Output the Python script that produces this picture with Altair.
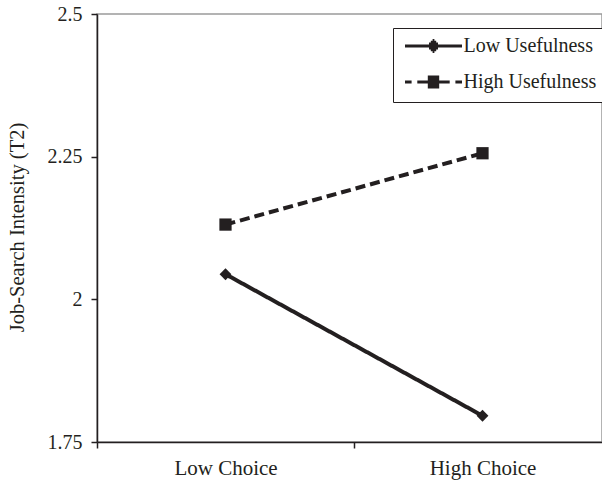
import altair as alt
import pandas as pd

# ---- data ----
choices = ["Low Choice", "High Choice"]
series_names = ["Low Usefulness", "High Usefulness"]
low_usefulness = [2.044, 1.796]
high_usefulness = [2.131, 2.256]
y_ticks = [1.75, 2.0, 2.25, 2.5]

rows = []
for s, vals in zip(series_names, [low_usefulness, high_usefulness]):
    for c, v in zip(choices, vals):
        rows.append({"choice": c, "series": s, "value": v})
df = pd.DataFrame(rows)

FONT = "Liberation Serif"
INK = "#231f20"


def hatch_square(h):
    ys = [-0.8, -0.48, -0.16, 0.16, 0.48, 0.8]
    return "".join(f"M{-h},{y}L{h},{y}" for y in ys)


def hatch_diamond(r):
    parts = []
    for k in range(-3, 4):
        y = k * 0.3
        w = max(r - abs(y), 0.08)
        parts.append(f"M{-w:.2f},{y:.2f}L{w:.2f},{y:.2f}")
    return "".join(parts)


# legend symbols: line + marker (units of 6 px), stroke only
LOW_PATH = "M-4.75,0L4.75,0" + hatch_diamond(1.05)
HIGH_PATH = ("M-4.75,0L-3.65,0M-2.7,0L-0.9,0M0.9,0L2.7,0M3.65,0L4.75,0"
             + hatch_square(0.95))

x_enc = alt.X(
    "choice:N", sort=choices, bandPosition=0.5,
    scale=alt.Scale(type="band", domain=choices, range=[0, 514],
                    paddingInner=0, paddingOuter=0),
    axis=alt.Axis(title=None, labelAngle=0, tickBand="extent",
                  labelFont=FONT, labelFontSize=21, labelColor=INK,
                  labelPadding=9, tickSize=6, tickColor=INK, tickWidth=1.5,
                  domainColor=INK, domainWidth=1.5, grid=False),
)
y_enc = alt.Y(
    "value:Q",
    scale=alt.Scale(domain=[1.75, 2.5], nice=False, zero=False),
    axis=alt.Axis(values=y_ticks, labelExpr="toString(datum.value)",
                  title="Job-Search Intensity (T2)", titleFont=FONT,
                  titleFontSize=20.5, titleFontWeight="normal", titleColor=INK,
                  titleX=-80, titleY=213, titleBaseline="middle",
                  titleAngle=270, titleAlign="center",
                  labelFont=FONT, labelFontSize=20, labelColor=INK,
                  labelPadding=9, tickSize=6, tickColor=INK, tickWidth=1.5,
                  domainColor=INK, domainWidth=1.5, grid=False),
)

base = alt.Chart(df)

lines = base.mark_line(color=INK, strokeWidth=4).encode(
    x=x_enc, y=y_enc,
    strokeDash=alt.StrokeDash("series:N",
                              scale=alt.Scale(domain=series_names,
                                              range=[[1, 0], [10, 5]]),
                              legend=None),
)

points = base.mark_point(filled=True, color=INK, opacity=1).encode(
    x=x_enc, y=y_enc,
    shape=alt.Shape("series:N",
                    scale=alt.Scale(domain=series_names,
                                    range=["diamond", "square"]),
                    legend=None),
    size=alt.Size("series:N",
                  scale=alt.Scale(domain=series_names, range=[140, 150]),
                  legend=None),
)

legend_layer = base.mark_point(
    filled=False, color=INK, strokeWidth=3.2, size=144, opacity=1
).encode(
    x=x_enc, y=y_enc,
    shape=alt.Shape(
        "series:N",
        scale=alt.Scale(domain=series_names, range=[LOW_PATH, HIGH_PATH]),
        legend=alt.Legend(
            title=None, orient="none", legendX=296, legendY=14,
            strokeColor=INK, fillColor="white", padding=8,
            labelFont=FONT, labelFontSize=20, labelColor=INK,
            labelBaseline="middle",
            symbolSize=144, symbolStrokeWidth=3.2,
            symbolStrokeColor=INK,
            symbolOffset=22.5, labelOffset=20, rowPadding=12,
        ),
    ),
).transform_filter("false")

chart = (
    alt.layer(lines, points, legend_layer)
    .resolve_scale(shape="independent", size="independent")
    .properties(
        width=505, height=428,
        autosize=alt.AutoSizeParams(type="none"),
        padding={"left": 97, "top": 14, "right": 0, "bottom": 39},
        background="white",
    )
    .configure_view(stroke="#9a9a9a", strokeWidth=1.5)
)

chart.save("out.html", embed_options={"renderer": "svg", "actions": False})
